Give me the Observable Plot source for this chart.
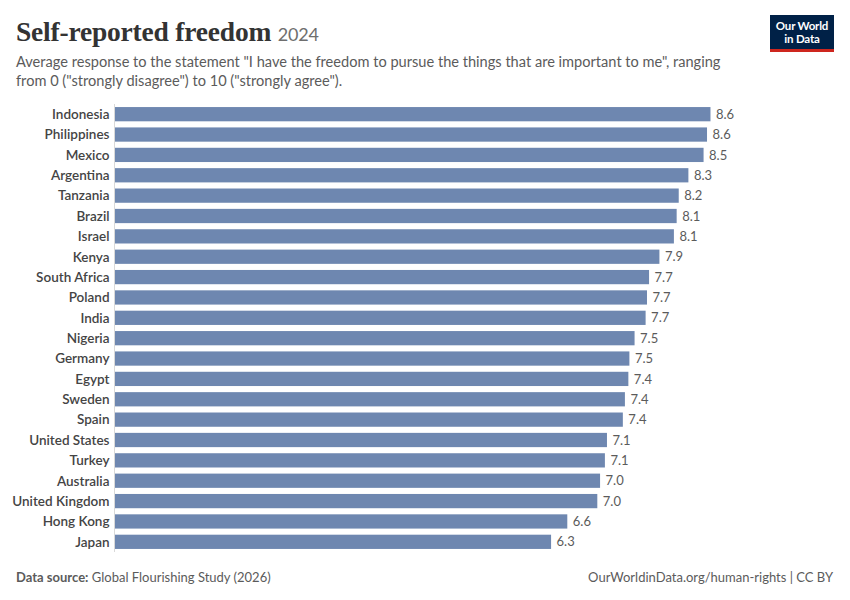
<!DOCTYPE html>
<html><head><meta charset="utf-8">
<script src="https://cdn.jsdelivr.net/npm/d3@7"></script>
<script src="https://cdn.jsdelivr.net/npm/@observablehq/plot@0.6"></script>
<style>
body{margin:0;background:#fff;font-family:Lato,sans-serif;}
#wrap{position:relative;width:850px;height:600px;overflow:hidden;background:#fff;}
#title{position:absolute;left:16px;top:16px;font-family:"Liberation Serif",serif;font-weight:bold;font-size:27.5px;color:#333;white-space:nowrap;letter-spacing:-0.2px;}
#title span{font-family:Lato,sans-serif;font-weight:normal;font-size:18px;color:#6e6e6e;}
#sub{position:absolute;left:16px;top:52px;font-size:14.6px;line-height:19px;color:#5b5b5b;white-space:nowrap;}
#logo{position:absolute;left:770px;top:15px;width:64px;height:37px;background:#002147;border-bottom:3px solid #ce261e;box-sizing:border-box;color:#fff;font-weight:bold;font-size:11.5px;line-height:12.5px;text-align:center;padding-top:5px;letter-spacing:-0.2px;}
#chart{position:absolute;left:0;top:94px;}
#footl{position:absolute;left:16px;top:569px;font-size:13px;color:#5b5b5b;}
#footl b{font-weight:bold;color:#5b5b5b;}
#footr{position:absolute;right:17px;top:569px;font-size:13px;color:#5b5b5b;}
#chart g[aria-label="y-axis tick label"] text{font-weight:600;fill:#444;}
</style>
</head><body>
<div id="wrap">
  <div id="title">Self-reported freedom <span>2024</span></div>
  <div id="sub">Average response to the statement "I have the freedom to pursue the things that are important to me", ranging<br>from 0 ("strongly disagree") to 10 ("strongly agree").</div>
  <div id="logo">Our World<br>in Data</div>
  <div id="chart"></div>
  <div id="footl"><b>Data source:</b> Global Flourishing Study (2026)</div>
  <div id="footr">OurWorldinData.org/human-rights | CC BY</div>
</div>
<script>
const countries = ["Indonesia","Philippines","Mexico","Argentina","Tanzania","Brazil","Israel","Kenya","South Africa","Poland","India","Nigeria","Germany","Egypt","Sweden","Spain","United States","Turkey","Australia","United Kingdom","Hong Kong","Japan"];
const values = [8.63,8.58,8.53,8.31,8.17,8.14,8.10,7.89,7.74,7.71,7.69,7.53,7.455,7.44,7.39,7.36,7.13,7.10,7.03,6.99,6.555,6.32];

const data = countries.map((c,i)=>({country:c, value:values[i]}));
const fmt = d3.format(".1f");

const chart = Plot.plot({
  width: 850,
  height: 470,
  marginTop: 10,
  marginBottom: 12,
  marginLeft: 115,
  marginRight: 45,
  style: {fontFamily: "Lato, sans-serif", fontSize: "13.5px", background: "#fff"},
  x: {domain: [0, 10], axis: null},
  y: {domain: countries, paddingInner: 0.3, paddingOuter: 0.15, round: false, label: null, tickSize: 0, tickPadding: 6},
  marks: [
    Plot.barX(data, {x: "value", y: "country", fill: "#6e87b0"}),
    Plot.ruleX([0], {stroke: "#d9d9d9", dx: -1}),
    Plot.text(data, {x: "value", y: "country", text: d => fmt(d.value), dx: 5, textAnchor: "start", fill: "#5b5b5b", fontSize: 13})
  ]
});
document.getElementById("chart").appendChild(chart);
</script>
</body></html>
